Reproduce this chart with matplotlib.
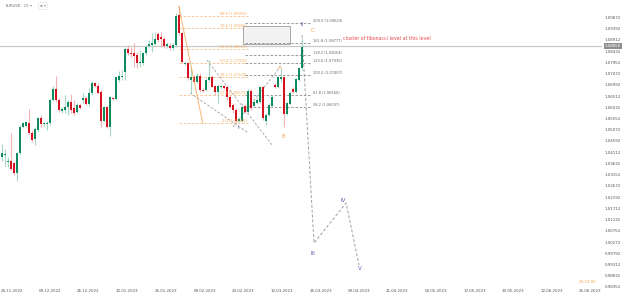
import matplotlib
matplotlib.use("Agg")
import matplotlib.pyplot as plt
import numpy as np

# daily EURUSD candles (incl. sunday bars)
opens = [1.0392, 1.0398, 1.0368, 1.0375, 1.0364, 1.0324, 1.0406, 1.0520, 1.0525, 1.0537,
         1.0495, 1.0466, 1.0506, 1.0556, 1.0530, 1.0533, 1.0535, 1.0634, 1.0680, 1.0634,
         1.0587, 1.0592, 1.0606, 1.0624, 1.0599, 1.0584, 1.0613, 1.0634, 1.0641, 1.0616,
         1.0663, 1.0708, 1.0694, 1.0670, 1.0546, 1.0606, 1.0517, 1.0641, 1.0639, 1.0720,
         1.0731, 1.0755, 1.0851, 1.0837, 1.0834, 1.0827, 1.0791, 1.0794, 1.0834, 1.0867,
         1.0871, 1.0874, 1.0916, 1.0902, 1.0894, 1.0865, 1.0865, 1.0855, 1.0869, 1.0997,
         1.0919, 1.0788, 1.0791, 1.0720, 1.0734, 1.0713, 1.0737, 1.0677, 1.0677, 1.0720,
         1.0734, 1.0694, 1.0670, 1.0688, 1.0694, 1.0688, 1.0649, 1.0613, 1.0592, 1.0546,
         1.0546, 1.0609, 1.0584, 1.0674, 1.0609, 1.0620, 1.0627, 1.0688, 1.0546, 1.0570,
         1.0609, 1.0698, 1.0688, 1.0725, 1.0731, 1.0574, 1.0617, 1.0680, 1.0670, 1.0720,
         1.0770]
highs = [1.0446, 1.0423, 1.0392, 1.0492, 1.0371, 1.0413, 1.0527, 1.0542, 1.0546, 1.0594,
         1.0506, 1.0520, 1.0563, 1.0570, 1.0542, 1.0546, 1.0641, 1.0694, 1.0737, 1.0641,
         1.0606, 1.0656, 1.0634, 1.0659, 1.0634, 1.0620, 1.0617, 1.0663, 1.0649, 1.0684,
         1.0717, 1.0713, 1.0706, 1.0677, 1.0609, 1.0609, 1.0651, 1.0649, 1.0734, 1.0760,
         1.0763, 1.0862, 1.0869, 1.0862, 1.0877, 1.0841, 1.0848, 1.0841, 1.0869, 1.0891,
         1.0919, 1.0926, 1.0926, 1.0926, 1.0905, 1.0879, 1.0877, 1.0877, 1.1005, 1.1036,
         1.0926, 1.0798, 1.0798, 1.0777, 1.0741, 1.0748, 1.0748, 1.0684, 1.0727, 1.0805,
         1.0741, 1.0698, 1.0698, 1.0698, 1.0698, 1.0698, 1.0656, 1.0620, 1.0599, 1.0560,
         1.0620, 1.0617, 1.0680, 1.0680, 1.0634, 1.0641, 1.0694, 1.0694, 1.0577, 1.0620,
         1.0656, 1.0706, 1.0737, 1.0770, 1.0737, 1.0627, 1.0674, 1.0688, 1.0727, 1.0777,
         1.0898]
lows = [1.0375, 1.0354, 1.0349, 1.0335, 1.0314, 1.0288, 1.0399, 1.0513, 1.0520, 1.0485,
        1.0456, 1.0442, 1.0499, 1.0520, 1.0523, 1.0506, 1.0527, 1.0631, 1.0627, 1.0584,
        1.0577, 1.0577, 1.0570, 1.0577, 1.0570, 1.0577, 1.0594, 1.0620, 1.0613, 1.0609,
        1.0656, 1.0688, 1.0660, 1.0520, 1.0542, 1.0513, 1.0480, 1.0634, 1.0634, 1.0713,
        1.0720, 1.0720, 1.0827, 1.0820, 1.0777, 1.0770, 1.0777, 1.0784, 1.0827, 1.0862,
        1.0841, 1.0869, 1.0884, 1.0862, 1.0855, 1.0858, 1.0848, 1.0848, 1.0862, 1.0912,
        1.0791, 1.0784, 1.0720, 1.0663, 1.0706, 1.0706, 1.0670, 1.0667, 1.0674, 1.0713,
        1.0688, 1.0656, 1.0620, 1.0684, 1.0680, 1.0634, 1.0599, 1.0577, 1.0542, 1.0540,
        1.0542, 1.0577, 1.0580, 1.0592, 1.0609, 1.0617, 1.0620, 1.0549, 1.0527, 1.0566,
        1.0606, 1.0684, 1.0684, 1.0713, 1.0520, 1.0570, 1.0613, 1.0663, 1.0666, 1.0717,
        1.0763]
closes = [1.0409, 1.0403, 1.0375, 1.0338, 1.0324, 1.0406, 1.0520, 1.0535, 1.0539, 1.0492,
          1.0463, 1.0509, 1.0556, 1.0530, 1.0536, 1.0537, 1.0634, 1.0680, 1.0634, 1.0592,
          1.0596, 1.0606, 1.0624, 1.0592, 1.0580, 1.0613, 1.0599, 1.0641, 1.0616, 1.0663,
          1.0708, 1.0694, 1.0666, 1.0546, 1.0606, 1.0517, 1.0649, 1.0637, 1.0731, 1.0737,
          1.0737, 1.0851, 1.0837, 1.0831, 1.0822, 1.0794, 1.0798, 1.0837, 1.0862, 1.0872,
          1.0877, 1.0894, 1.0891, 1.0894, 1.0865, 1.0872, 1.0855, 1.0869, 1.0993, 1.0919,
          1.0798, 1.0794, 1.0727, 1.0731, 1.0713, 1.0737, 1.0677, 1.0672, 1.0720, 1.0734,
          1.0691, 1.0670, 1.0694, 1.0694, 1.0687, 1.0649, 1.0606, 1.0592, 1.0546, 1.0552,
          1.0606, 1.0584, 1.0674, 1.0599, 1.0627, 1.0634, 1.0688, 1.0556, 1.0570, 1.0613,
          1.0649, 1.0688, 1.0731, 1.0731, 1.0574, 1.0620, 1.0666, 1.0670, 1.0723, 1.0770,
          1.0862]
last_price = 1.0865

date_labels = ["24.11.2022", "09.12.2022", "26.12.2022", "10.01.2023", "25.01.2023",
               "09.02.2023", "24.02.2023", "12.03.2023", "26.03.2023", "09.04.2023",
               "21.04.2023", "04.05.2023", "17.05.2023", "30.05.2023", "12.06.2023",
               "25.06.2023"]
date_pos = [3.4, 16.1, 28.8, 41.8, 54.8, 67.8, 80.4, 93.4, 106.3, 119.1,
            131.8, 144.8, 157.8, 170.4, 183.4, 196.1]
price_ticks = [0.98352, 0.98832, 0.99312, 0.99792, 1.00272, 1.00752, 1.01232, 1.01712,
               1.02192, 1.02672, 1.03152, 1.03632, 1.04112, 1.04592, 1.05072, 1.05552,
               1.06032, 1.06512, 1.06992, 1.07472, 1.07952, 1.08432, 1.08912, 1.09392,
               1.09872]

# fibonacci retracement (orange), drawn from the feb top down
fib_ratios = [0.0, 0.236, 0.382, 0.5, 0.618, 0.786, 0.886]
fib_low, fib_high = 1.0536, 1.1050
fib_x = [59, 82]
fib_trend = ([59, 67], [1.1036, 1.0536])

# fibonacci extension (grey) off the B low
ext_ratios = [0.382, 0.618, 1.0, 1.236, 1.382, 1.618, 2.0]
ext_base, ext_range = 1.0519, 0.02217
ext_x = [81, 103]
zone_x = [80.4, 96.1]
zone_y = [1.0874, 1.0950]

# grey dashed helper lines
channel_lines = [([68.4, 90.1], [1.0805, 1.0442]),
                 ([62.8, 81.8], [1.0664, 1.0497]),
                 ([77.1, 92.8], [1.0519, 1.0775])]
wave_x = [100.1, 104.1, 114.8, 119.1]
wave_y = [1.0912, 1.0023, 1.0194, 0.9929]
wave_labels = [("I", 78.8, 1.0515), ("II", 100.1, 1.0955), ("III", 103.8, 0.9980),
               ("IV", 113.8, 1.0203), ("V", 119.4, 0.9912)]
abc_labels = [("A", 92.8, 1.0771), ("B", 93.8, 1.0480), ("C", 103.8, 1.0933)]

GREEN, RED = "#0f8a5c", "#d5121f"
GREEN_W, RED_W = "#a6d8c2", "#f4b0b5"
ORANGE = "#f5a452"
GREY = "#8c8c8c"
WAVE = "#5c5ca8"

fig = plt.figure(figsize=(6.25, 2.96), dpi=100)
ax = fig.add_axes([0, 8 / 296, 602 / 625, 288 / 296])

x = np.arange(len(opens))
o = np.array(opens); h = np.array(highs); l = np.array(lows); c = np.array(closes)
up = c >= o
ax.vlines(x[up], l[up], h[up], color=GREEN_W, lw=0.8, zorder=2)
ax.vlines(x[~up], l[~up], h[~up], color=RED_W, lw=0.8, zorder=2)
body_lo = np.minimum(o, c)
body_h = np.maximum(np.abs(c - o), 0.0004)
ax.bar(x[up], body_h[up], bottom=body_lo[up], width=0.72, color=GREEN, lw=0, zorder=3)
ax.bar(x[~up], body_h[~up], bottom=body_lo[~up], width=0.72, color=RED, lw=0, zorder=3)

# current price line
ax.axhline(last_price, color="#c9c9c9", lw=0.9, zorder=1)

# orange retracement
ax.plot(*fib_trend, color=ORANGE, lw=0.7, alpha=0.8, zorder=4)
for r in fib_ratios:
    lvl = fib_low + r * (fib_high - fib_low)
    ax.plot(fib_x, [lvl, lvl], color=ORANGE, lw=0.6, ls=(0, (3, 2)), alpha=0.7, zorder=1)
    ax.text(fib_x[1] - 0.3, lvl, f"{r*100:.1f} ({lvl:.5f})", color=ORANGE,
            fontsize=2.6, ha="right", va="bottom", alpha=0.9)

# grey extension
ax.add_patch(plt.Rectangle((zone_x[0], zone_y[0]), zone_x[1] - zone_x[0],
                           zone_y[1] - zone_y[0], facecolor="#f2f2f2",
                           edgecolor="#9a9a9a", lw=0.6, zorder=1))
for r in ext_ratios:
    lvl = ext_base + r * ext_range
    ax.plot(ext_x, [lvl, lvl], color=GREY, lw=0.6, ls=(0, (3, 2)), zorder=1)
    ax.text(ext_x[1] + 0.8, lvl, f"{r*100:.1f} ({lvl:.5f})", color="#666666",
            fontsize=2.6, ha="left", va="bottom")

for lx, ly in channel_lines:
    ax.plot(lx, ly, color="#a0a0a0", lw=0.6, ls=(0, (3, 2)), zorder=1)
ax.plot(wave_x, wave_y, color="#a0a0a0", lw=0.7, ls=(0, (3, 2)), zorder=1)

for t, tx, ty in wave_labels:
    ax.text(tx, ty, t, color=WAVE, fontsize=4, ha="center", va="center")
for t, tx, ty in abc_labels:
    ax.text(tx, ty, t, color=ORANGE, fontsize=4, ha="center", va="center")

ax.text(113.8, 1.0895, "cluster of fibonacci level at this level", color="#e8484f",
        fontsize=3.4, ha="left", va="center")

ax.set_xlim(-0.57, 200.1)
ax.set_ylim(0.98308, 1.10616)
ax.yaxis.tick_right()
ax.set_yticks(price_ticks)
ax.set_yticklabels([f"{p:.5f}" for p in price_ticks])
ax.set_xticks(date_pos)
ax.set_xticklabels(date_labels)
ax.tick_params(axis="both", length=0, labelsize=2.9, labelcolor="#555555")
ax.tick_params(axis="y", pad=2.0)
ax.tick_params(axis="x", pad=0.6)
for s in ax.spines.values():
    s.set_visible(False)

# price tag for current price
ax.annotate(f"{last_price:.5f}", xy=(1.0, last_price), xycoords=("axes fraction", "data"),
            xytext=(2.0, 0), textcoords="offset points", fontsize=2.9, color="white",
            va="center", ha="left",
            bbox=dict(boxstyle="square,pad=0.25", fc="#8f8f8f", ec="none"))

# header + countdown
fig.text(6 / 625, 1 - 6 / 296, "EURUSD", fontsize=2.6, color="#666666", va="center")
fig.text(24 / 625, 1 - 6 / 296, "D1 \u25be", fontsize=2.6, color="#888888", va="center")
fig.text(43 / 625, 1 - 6 / 296, "\u2261 \u25be", fontsize=2.6, color="#888888", va="center",
         ha="center", bbox=dict(boxstyle="round,pad=0.4", fc="white", ec="#dddddd", lw=0.4))
fig.text(588 / 625, 1 - 282 / 296, "23:22:00", fontsize=2.9, color=ORANGE, va="center",
         ha="center")

fig.savefig("out.png", dpi=100)
